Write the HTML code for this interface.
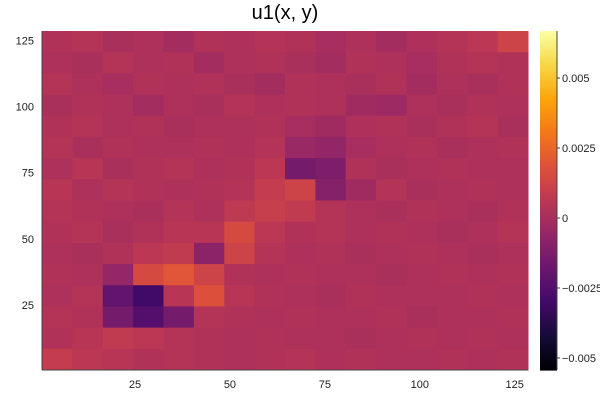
<!DOCTYPE html>
<html><head><meta charset="utf-8"><style>
html,body{margin:0;padding:0;width:600px;height:400px;overflow:hidden;background:#fff}
svg{display:block;font-family:"Liberation Sans","DejaVu Sans",sans-serif}
</style></head><body>
<svg id="c" width="600" height="400">
<text x="285" y="19" font-size="20" text-anchor="middle" fill="#000">u1(x, y)</text>
</svg>
<script>
// values in units of 1e-4, rows listed from top (y high) to bottom
const gridRows = [
[3,4,1,2,-1,3,2,4,3,0,2,-1,2,4,6,12],
[2,1,4,2,3,-1,2,3,1,-1,3,2,0,3,4,3],
[4,2,0,3,2,3,1,-1,3,2,1,3,-1,2,1,3],
[1,3,2,-1,2,1,4,2,3,2,-2,-3,2,1,3,2],
[3,4,2,3,1,2,2,3,0,-2,2,3,1,3,4,1],
[4,1,3,2,2,3,2,4,-4,-6,0,2,3,1,2,3],
[2,5,1,3,4,2,3,6,-15,-12,3,1,2,3,2,2],
[5,2,4,3,2,3,4,9,12,-10,-2,4,1,2,3,2],
[4,3,2,1,4,2,7,10,8,4,2,1,3,2,1,3],
[3,4,1,3,5,5,15,6,3,4,2,3,2,1,2,4],
[2,1,3,6,8,-8,12,4,2,3,1,2,3,2,1,2],
[3,2,-5,15,20,12,3,2,3,2,2,1,2,3,2,3],
[2,4,-20,-30,5,18,5,3,2,1,3,2,2,2,3,2],
[4,3,-15,-25,-15,4,3,2,3,2,2,3,1,2,2,3],
[3,5,8,6,4,3,2,3,2,2,1,2,3,2,3,2],
[9,6,5,3,4,3,2,3,4,2,3,2,2,3,2,3]];
const xTicks = [25,50,75,100,125];
const yTicks = [25,50,75,100,125];
const cbTicks = [0.005,0.0025,0,-0.0025,-0.005];
const cbLabels = ["0.005","0.0025","0","\u22120.0025","\u22120.005"];
const vmin = -0.00543, vmax = 0.00668;

const NS="http://www.w3.org/2000/svg", svg=document.getElementById('c');
const L=42,R=528,T=31,B=370;
const sx=v=>L+(v-0.5)*(R-L)/128, sy=v=>B-(v-0.5)*(B-T)/128;
const cy=v=>B-(v-vmin)/(vmax-vmin)*(B-T);
const stops=["#000004","#160b39","#420a68","#6a176e","#932667","#bc3754","#dd513a","#f37819","#fca50a","#f6d746","#fcffa4"];
function hex(h){return [1,3,5].map(i=>parseInt(h.substr(i,2),16));}
function cmap(t){t=Math.max(0,Math.min(1,t));const p=t*10,i=Math.min(9,Math.floor(p)),f=p-i;
const a=hex(stops[i]),b=hex(stops[i+1]);return 'rgb('+a.map((v,k)=>Math.round(v+(b[k]-v)*f)).join(',')+')';}
function mk(tag,attrs){const e=document.createElementNS(NS,tag);for(const k in attrs)e.setAttribute(k,attrs[k]);svg.appendChild(e);return e;}
const n=gridRows.length,m=gridRows[0].length,cw=128/m,ch=128/n;
gridRows.forEach((row,ri)=>{row.forEach((v,ci)=>{
 const j=n-1-ri;const val=v*1e-4;
 const x0=sx(0.5+ci*cw),x1=sx(0.5+(ci+1)*cw),y1=sy(0.5+j*ch),y0=sy(0.5+(j+1)*ch);
 const r=mk('rect',{x:x0,y:y0,width:x1-x0+0.5,height:y1-y0+0.5,fill:cmap((val-vmin)/(vmax-vmin))});
 
 
});});
let a=mk('line',{x1:L,y1:T,x2:L,y2:B,stroke:'#444','stroke-width':1});

a=mk('line',{x1:L,y1:B,x2:R,y2:B,stroke:'#444','stroke-width':1});

xTicks.forEach(t=>{const e=mk('text',{x:sx(t),y:388,'font-size':11,'text-anchor':'middle',fill:'#222'});e.textContent=t;
 });
yTicks.forEach(t=>{const e=mk('text',{x:34,y:sy(t)+4,'font-size':11,'text-anchor':'end',fill:'#222'});e.textContent=t;
 });
for(let k=0;k<170;k++){const y0=T+k*(B-T)/170;const v=vmax-(k+0.5)/170*(vmax-vmin);
 const r=mk('rect',{x:540,y:y0,width:17,height:(B-T)/170+0.6,fill:cmap((v-vmin)/(vmax-vmin))});
 }
a=mk('line',{x1:557,y1:T,x2:557,y2:B,stroke:'#444','stroke-width':1});

cbTicks.forEach((t,i)=>{const y=cy(t);
 const l=mk('line',{x1:557,y1:y,x2:560,y2:y,stroke:'#444'});
 
 const e=mk('text',{x:562,y:y+4,'font-size':11,fill:'#222'});e.textContent=cbLabels[i];
 });
</script>
</body></html>
